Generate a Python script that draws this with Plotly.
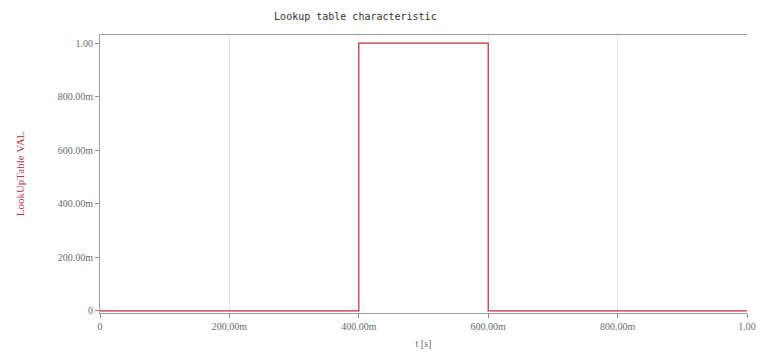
import plotly.graph_objects as go

# Lookup table breakpoints: a single rectangular pulse between 0.4 s and 0.6 s
t_values = [0.0, 0.4, 0.4, 0.6, 0.6, 1.0]
lut_values = [0.0, 0.0, 1.0, 1.0, 0.0, 0.0]

x_tick_vals = [0.0, 0.2, 0.4, 0.6, 0.8, 1.0]
x_tick_text = ["0", "200.00m", "400.00m", "600.00m", "800.00m", "1.00"]
y_tick_vals = [0.0, 0.2, 0.4, 0.6, 0.8, 1.0]
y_tick_text = ["0", "200.00m", "400.00m", "600.00m", "800.00m", "1.00"]

fig = go.Figure()
fig.add_trace(go.Scatter(
    x=t_values, y=lut_values, mode="lines",
    line=dict(color="#c8283a", width=1.2),
    showlegend=False, hoverinfo="skip",
))

tick_font = dict(family="Liberation Serif", size=10, color="#6a6a6a")

fig.update_layout(
    width=761, height=358,
    margin=dict(l=100, r=14, t=35, b=45, autoexpand=False),
    paper_bgcolor="white", plot_bgcolor="white",
    title=dict(
        text="Lookup table characteristic",
        x=0.467, xanchor="center", y=0.955, yanchor="middle",
        font=dict(family="DejaVu Sans Mono", size=10, color="#333333"),
    ),
    xaxis=dict(
        range=[0, 1.0],
        tickvals=x_tick_vals, ticktext=x_tick_text,
        tickfont=tick_font, ticklabeloverflow="allow",
        ticks="outside", ticklen=4, tickcolor="#888888",
        showline=True, linecolor="#9a9a9a", linewidth=1, mirror=True,
        showgrid=True, gridcolor="#e4e4e4", gridwidth=1,
        zeroline=False,
        title=dict(text="t [s]", font=dict(family="Liberation Serif", size=10, color="#6a6a6a"), standoff=8),
    ),
    yaxis=dict(
        range=[-0.008, 1.03],
        tickvals=y_tick_vals, ticktext=y_tick_text,
        tickfont=tick_font,
        ticks="outside", ticklen=4, tickcolor="#888888",
        showline=True, linecolor="#a0a0a0", linewidth=1,
        showgrid=False, zeroline=False,
        title=dict(text="LookUpTable VAL", font=dict(family="Liberation Serif", size=11, color="#b03a48"), standoff=30),
    ),
)

fig.write_html("out.html")
